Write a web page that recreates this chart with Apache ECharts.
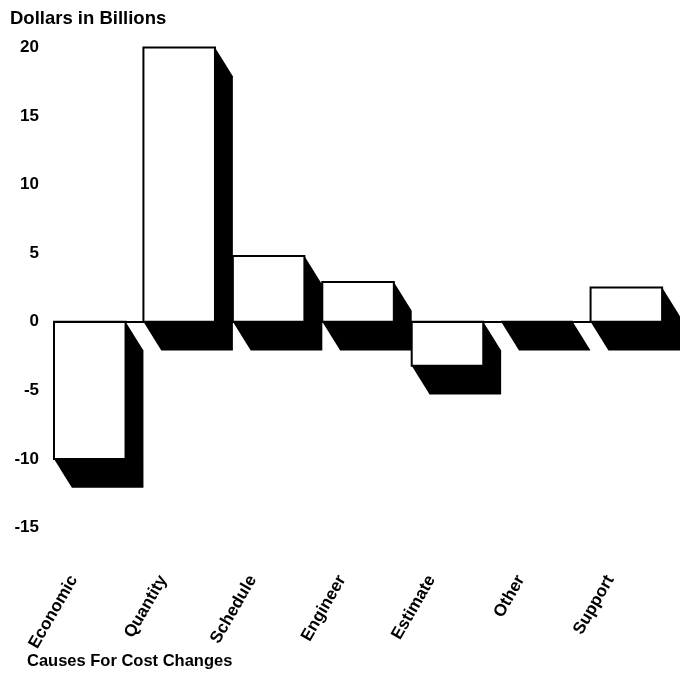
<!DOCTYPE html>
<html>
<head>
<meta charset="utf-8">
<script src="https://cdn.jsdelivr.net/npm/echarts@6/dist/echarts.min.js"></script>
<style>
html,body{margin:0;padding:0;background:#fff;}
#c{width:680px;height:694px;}
</style>
</head>
<body>
<div id="c"></div>
<script>
const categories = ['Economic', 'Quantity', 'Schedule', 'Engineer', 'Estimate', 'Other', 'Support'];
const values = [-10, 20, 4.8, 2.9, -3.2, 0, 2.5];
const yTicks = { min: -15, max: 20, interval: 5 };

const FONT = '"Liberation Sans", Arial, Helvetica, sans-serif';
const DEPTH = 2.1; // shadow depth in value units

const chart = echarts.init(document.getElementById('c'), null, { renderer: 'canvas' });

function renderItem(params, api) {
  const idx = api.value(0);
  const v = api.value(1);
  const band = api.size([1, 0])[0];
  const center = api.coord([idx, 0])[0];
  const x0 = center - band / 2;
  const w = band * 0.8;
  const dx = band * 0.2;
  const yTop = api.coord([idx, Math.max(v, 0)])[1];
  const yBot = api.coord([idx, Math.min(v, 0)])[1];
  const dy = api.size([0, DEPTH])[1];
  return {
    type: 'group',
    children: [
      {
        type: 'polygon',
        shape: {
          points: [
            [x0, yTop], [x0 + w, yTop], [x0 + w + dx, yTop + dy],
            [x0 + w + dx, yBot + dy], [x0 + dx, yBot + dy], [x0, yBot]
          ]
        },
        style: { fill: '#000', stroke: null }
      },
      {
        type: 'polygon',
        shape: { points: [[x0, yTop], [x0 + w, yTop], [x0 + w, yBot], [x0, yBot]] },
        style: { fill: '#fff', stroke: '#000', lineWidth: 2 }
      }
    ]
  };
}

chart.setOption({
  backgroundColor: '#fff',
  animation: false,
  title: [
    { text: 'Dollars in Billions', left: 5, top: 4,
      textStyle: { fontFamily: FONT, fontWeight: 'bold', fontSize: 18.5, color: '#000' } },
    { text: 'Causes For Cost Changes', left: 22, top: 648,
      textStyle: { fontFamily: FONT, fontWeight: 'bold', fontSize: 16.5, color: '#000' } }
  ],
  grid: { left: 54, right: -7, top: 47.5, bottom: 166.5, containLabel: false },
  xAxis: {
    type: 'category',
    data: categories,
    boundaryGap: true,
    axisLine: { show: false },
    axisTick: { show: false },
    splitLine: { show: false },
    axisLabel: {
      rotate: 60, interval: 0, margin: 6, padding: [0, 50, 0, 0],
      fontFamily: FONT, fontWeight: 'bold', fontSize: 17, color: '#000'
    }
  },
  yAxis: {
    type: 'value',
    min: yTicks.min, max: yTicks.max, interval: yTicks.interval,
    axisLine: { show: false },
    axisTick: { show: false },
    splitLine: { show: false },
    axisLabel: { margin: 15, fontFamily: FONT, fontWeight: 'bold', fontSize: 17, color: '#000' }
  },
  series: [{
    type: 'custom',
    renderItem: renderItem,
    clip: false,
    encode: { x: 0, y: 1 },
    data: values.map((v, i) => [i, v]),
    markLine: {
      silent: true,
      symbol: ['none', 'none'],
      label: { show: false },
      lineStyle: { color: '#000', width: 2, type: 'solid' },
      data: [{ yAxis: 0 }]
    }
  }]
});
</script>
</body>
</html>
